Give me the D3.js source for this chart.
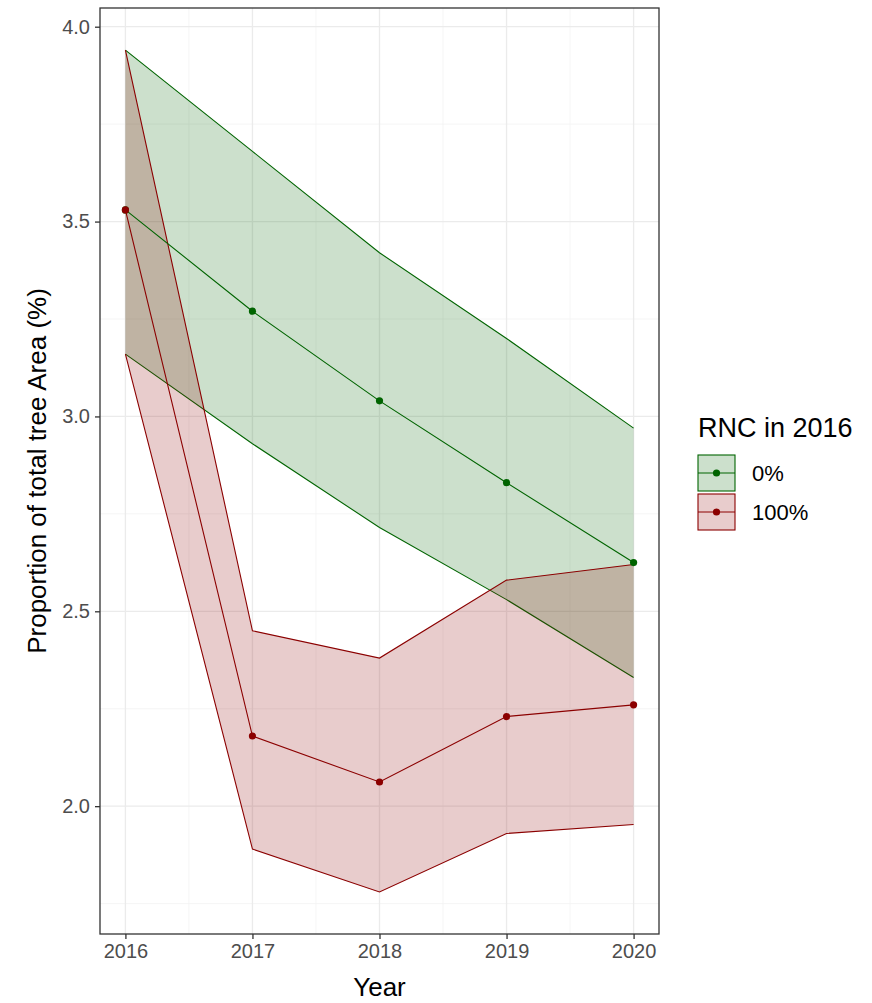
<!DOCTYPE html>
<html>
<head>
<meta charset="utf-8">
<script src="https://cdn.jsdelivr.net/npm/d3@7"></script>
<style>
  body { margin: 0; background: #fff; }
  svg text { font-family: "Liberation Sans", Arial, sans-serif; }
</style>
</head>
<body>
<svg id="chart" width="872" height="1003"></svg>
<script>
// values
var years = [2016, 2017, 2018, 2019, 2020];
var groups = ["0%", "100%"];
var rnc0Mean  = [3.53, 3.27, 3.04, 2.83, 2.625];
var rnc0Lower = [3.16, 2.93, 2.715, 2.53, 2.33];
var rnc0Upper = [3.94, 3.68, 3.42, 3.20, 2.97];
var rnc100Mean  = [3.53, 2.18, 2.062, 2.23, 2.26];
var rnc100Lower = [3.16, 1.89, 1.78, 1.93, 1.953];
var rnc100Upper = [3.94, 2.45, 2.38, 2.58, 2.62];
var yTicks = [2.0, 2.5, 3.0, 3.5, 4.0];
var yMinor = [1.75, 2.25, 2.75, 3.25, 3.75];
var xMinor = [2016.5, 2017.5, 2018.5, 2019.5];

var lineCols = {"0%": "#006400", "100%": "#8B0000"};

var series = [
  {key: "0%", mean: rnc0Mean, lo: rnc0Lower, hi: rnc0Upper},
  {key: "100%", mean: rnc100Mean, lo: rnc100Lower, hi: rnc100Upper}
];

var svg = d3.select("#chart");
var pLeft = 100, pRight = 659, pTop = 8, pBottom = 934;

// ggplot style 5% expansion
var allY = rnc0Lower.concat(rnc0Upper, rnc100Lower, rnc100Upper);
var yMin = d3.min(allY), yMax = d3.max(allY);
var yPad = (yMax - yMin) * 0.05;
var xPad = (d3.max(years) - d3.min(years)) * 0.05;

var x = d3.scaleLinear().domain([d3.min(years) - xPad, d3.max(years) + xPad]).range([pLeft, pRight]);
var y = d3.scaleLinear().domain([yMin - yPad, yMax + yPad]).range([pBottom, pTop]);

// grid
var grid = svg.append("g");
grid.selectAll(".ymin").data(yMinor).enter().append("line")
  .attr("x1", pLeft).attr("x2", pRight)
  .attr("y1", function(d){ return y(d); }).attr("y2", function(d){ return y(d); })
  .attr("stroke", "#f2f2f2").attr("stroke-width", 0.8);
grid.selectAll(".xmin").data(xMinor).enter().append("line")
  .attr("y1", pTop).attr("y2", pBottom)
  .attr("x1", function(d){ return x(d); }).attr("x2", function(d){ return x(d); })
  .attr("stroke", "#f2f2f2").attr("stroke-width", 0.8);
grid.selectAll(".ymaj").data(yTicks).enter().append("line")
  .attr("x1", pLeft).attr("x2", pRight)
  .attr("y1", function(d){ return y(d); }).attr("y2", function(d){ return y(d); })
  .attr("stroke", "#ebebeb").attr("stroke-width", 1.3);
grid.selectAll(".xmaj").data(years).enter().append("line")
  .attr("y1", pTop).attr("y2", pBottom)
  .attr("x1", function(d){ return x(d); }).attr("x2", function(d){ return x(d); })
  .attr("stroke", "#ebebeb").attr("stroke-width", 1.3);

// ribbons
var area = d3.area()
  .x(function(d){ return x(d.year); })
  .y0(function(d){ return y(d.lo); })
  .y1(function(d){ return y(d.hi); });
var line = d3.line()
  .x(function(d){ return x(d.year); })
  .y(function(d){ return y(d.v); });

series.forEach(function(s) {
  var pts = years.map(function(yr, i){ return {year: yr, lo: s.lo[i], hi: s.hi[i]}; });
  svg.append("path").datum(pts)
    .attr("d", area)
    .attr("fill", lineCols[s.key]).attr("fill-opacity", 0.2);
  [s.lo, s.hi].forEach(function(arr) {
    svg.append("path")
      .datum(years.map(function(yr, i){ return {year: yr, v: arr[i]}; }))
      .attr("d", line)
      .attr("fill", "none").attr("stroke", lineCols[s.key]).attr("stroke-width", 1.1);
  });
});

series.forEach(function(s) {
  var pts = years.map(function(yr, i){ return {year: yr, v: s.mean[i]}; });
  svg.append("path").datum(pts)
    .attr("d", line)
    .attr("fill", "none").attr("stroke", lineCols[s.key]).attr("stroke-width", 1.1);
  svg.selectAll(null).data(pts).enter().append("circle")
    .attr("cx", function(d){ return x(d.year); })
    .attr("cy", function(d){ return y(d.v); })
    .attr("r", 3.6)
    .attr("fill", lineCols[s.key]);
});

// panel border
svg.append("rect")
  .attr("x", pLeft).attr("y", pTop)
  .attr("width", pRight - pLeft).attr("height", pBottom - pTop)
  .attr("fill", "none").attr("stroke", "#333333").attr("stroke-width", 1.3);

// axes
var xAxis = svg.append("g")
  .attr("transform", "translate(0," + pBottom + ")")
  .call(d3.axisBottom(x).tickValues(years).tickFormat(d3.format("d")).tickSize(5).tickPadding(5));
var yAxis = svg.append("g")
  .attr("transform", "translate(" + pLeft + ",0)")
  .call(d3.axisLeft(y).tickValues(yTicks).tickFormat(d3.format(".1f")).tickSize(5).tickPadding(5));
[xAxis, yAxis].forEach(function(a) {
  a.select(".domain").remove();
  a.selectAll(".tick line").attr("stroke", "#333333").attr("stroke-width", 1.3);
  a.selectAll(".tick text").attr("fill", "#4d4d4d").style("font-size", "20px");
});

svg.append("text")
  .attr("x", (pLeft + pRight) / 2).attr("y", 996)
  .attr("text-anchor", "middle")
  .style("font-size", "26px").attr("fill", "#000")
  .text("Year");
svg.append("text")
  .attr("transform", "translate(46," + ((pTop + pBottom) / 2) + ") rotate(-90)")
  .attr("text-anchor", "middle")
  .style("font-size", "26px").attr("fill", "#000")
  .text("Proportion of total tree Area (%)");

// legend
var lg = svg.append("g").attr("transform", "translate(698,0)");
lg.append("text").attr("x", 0).attr("y", 437)
  .style("font-size", "27px").attr("fill", "#000")
  .text("RNC in 2016");
groups.forEach(function(g, i) {
  var ky = 455 + i * 39;
  lg.append("rect").attr("x", 0).attr("y", ky).attr("width", 37).attr("height", 36)
    .attr("fill", lineCols[g]).attr("fill-opacity", 0.2)
    .attr("stroke", lineCols[g]).attr("stroke-width", 1.1);
  lg.append("line").attr("x1", 0).attr("x2", 37).attr("y1", ky + 18).attr("y2", ky + 18)
    .attr("stroke", lineCols[g]).attr("stroke-width", 1.1);
  lg.append("circle").attr("cx", 18.5).attr("cy", ky + 18).attr("r", 3.6).attr("fill", lineCols[g]);
  lg.append("text").attr("x", 54).attr("y", ky + 18).attr("dy", "0.35em")
    .style("font-size", "22px").attr("fill", "#000")
    .text(g);
});
</script>
</body>
</html>
